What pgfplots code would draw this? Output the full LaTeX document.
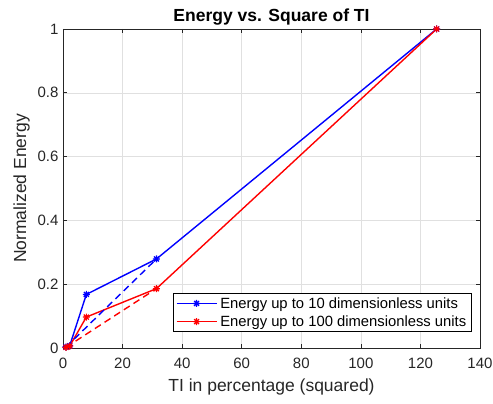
\documentclass[border=0pt]{standalone}
\usepackage{fontspec}
\setmainfont{Liberation Sans}
\usepackage{pgfplots}
\pgfplotsset{compat=1.18}
\definecolor{axgray}{gray}{0.15}
\definecolor{gridgray}{gray}{0.88}
\pgfdeclareplotmark{mstar}{%
  \pgfpathmoveto{\pgfqpoint{-\pgfplotmarksize}{0pt}}\pgfpathlineto{\pgfqpoint{\pgfplotmarksize}{0pt}}%
  \pgfpathmoveto{\pgfqpoint{0pt}{-\pgfplotmarksize}}\pgfpathlineto{\pgfqpoint{0pt}{\pgfplotmarksize}}%
  \pgfpathmoveto{\pgfqpoint{-0.707\pgfplotmarksize}{-0.707\pgfplotmarksize}}\pgfpathlineto{\pgfqpoint{0.707\pgfplotmarksize}{0.707\pgfplotmarksize}}%
  \pgfpathmoveto{\pgfqpoint{-0.707\pgfplotmarksize}{0.707\pgfplotmarksize}}\pgfpathlineto{\pgfqpoint{0.707\pgfplotmarksize}{-0.707\pgfplotmarksize}}%
  \pgfusepathqstroke}
\begin{document}
\begin{tikzpicture}
\begin{axis}[
  scale only axis, width=417pt, height=319pt,
  xmin=0, xmax=140, ymin=0, ymax=1,
  xtick={0,20,...,140}, ytick={0,0.2,0.4,0.6,0.8,1},
  yticklabels={0,0.2,0.4,0.6,0.8,1},
  grid=major, major grid style={gridgray, line width=0.5pt},
  axis line style={axgray, line width=0.6pt},
  tick style={axgray, line width=0.6pt},
  tick align=inside, major tick length=4pt,
  ticklabel style={font=\fontsize{15}{17}\selectfont, text=axgray},
  xticklabel style={yshift=-6pt},
  yticklabel style={xshift=-1pt},
  /pgf/number format/assume math mode=true,
  xlabel={TI in percentage (squared)}, ylabel={Normalized Energy},
  label style={font=\fontsize{17.5}{20}\selectfont, text=axgray},
  title={\textbf{Energy vs. Square of TI}},
  title style={font=\fontsize{17.5}{20}\selectfont, yshift=-6pt},
  xlabel style={yshift=-4pt},
  ylabel style={yshift=1pt},
  legend style={at={(rel axis cs:0.981,0.050)}, anchor=south east,
    font=\fontsize{14.8}{17}\selectfont, draw=black, line width=0.6pt,
    inner xsep=2.5pt, inner ysep=2pt, row sep=2pt,
    nodes={inner xsep=3pt, inner ysep=2pt}},
  legend cell align=left,
  legend image code/.code={\draw[#1] (0pt,0pt) -- (40pt,0pt); \draw[#1, only marks] plot coordinates {(20pt,0pt)};},
  clip=false,
]
\addplot[blue, line width=1.4pt, mark=mstar, mark size=3.5pt, mark options={solid, line width=1.2pt}]
  coordinates {(1,0.003) (2.25,0.007) (7.84,0.168) (31.36,0.279) (125.44,1)};
\addlegendentry{Energy up to 10 dimensionless units}
\addplot[red, line width=1.4pt, mark=mstar, mark size=3.5pt, mark options={solid, line width=1.2pt}]
  coordinates {(1,0.002) (2.25,0.006) (7.84,0.097) (31.36,0.186) (125.44,1)};
\addlegendentry{Energy up to 100 dimensionless units}
\addplot[blue, line width=1.4pt, dash pattern=on 7pt off 4.5pt, forget plot]
  coordinates {(1,0.003) (31.36,0.279)};
\addplot[red, line width=1.4pt, dash pattern=on 7pt off 4.5pt, forget plot]
  coordinates {(1,0.002) (31.36,0.186)};
\coordinate (bl) at (rel axis cs:0,0);
\end{axis}
\pgfresetboundingbox
\path[use as bounding box] ([shift={(-63pt,-56pt)}]bl) rectangle ++(493pt,404pt);
\end{tikzpicture}
\end{document}
